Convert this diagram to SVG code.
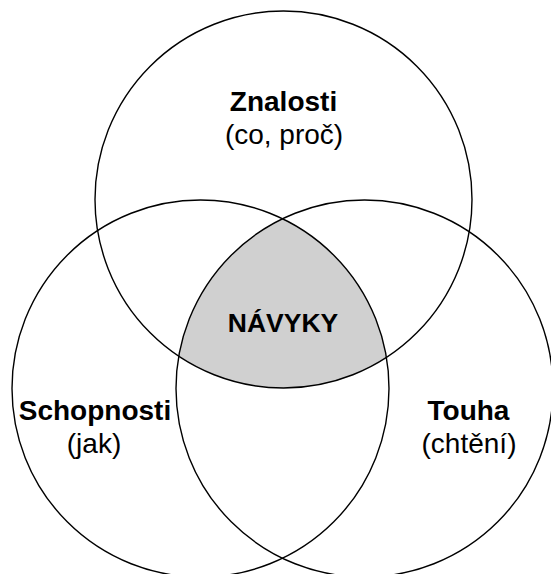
<svg xmlns="http://www.w3.org/2000/svg" width="551" height="574" viewBox="0 0 551 574">
  <style>
    .ring { fill: none; stroke: #000; stroke-width: 1.4; }
    .t { font-family: "Liberation Sans", Arial, Helvetica, sans-serif; font-size: 28px; fill: #000; text-anchor: middle; }
    .b { font-weight: bold; }
  </style>
  <defs>
    <clipPath id="clipL"><circle cx="200.5" cy="388.5" r="188.5"/></clipPath>
    <clipPath id="clipR"><circle cx="364.5" cy="388.5" r="188.5"/></clipPath>
  </defs>
  <rect width="551" height="574" fill="#fff"/>
  <g id="overlap">
    <g clip-path="url(#clipL)">
      <g clip-path="url(#clipR)">
        <circle cx="283.5" cy="199.5" r="188.5" fill="#d0d0d0"/>
      </g>
    </g>
  </g>
  <g id="connectors"></g>
  <g id="znalosti">
    <circle class="ring" cx="283.5" cy="199.5" r="188.5"/>
    <text class="t b" x="283.5" y="111">Znalosti</text>
    <text class="t" x="284" y="144">(co, proč)</text>
  </g>
  <g id="schopnosti">
    <circle class="ring" cx="200.5" cy="388.5" r="188.5"/>
    <text class="t b" x="95" y="420">Schopnosti</text>
    <text class="t" x="94" y="453">(jak)</text>
  </g>
  <g id="touha">
    <circle class="ring" cx="364.5" cy="388.5" r="188.5"/>
    <text class="t b" x="468.5" y="420">Touha</text>
    <text class="t" x="469" y="453">(chtění)</text>
  </g>
  <g id="navyky">
    <text class="t b" x="283" y="332" style="font-size:26.5px">NÁVYKY</text>
  </g>
</svg>
